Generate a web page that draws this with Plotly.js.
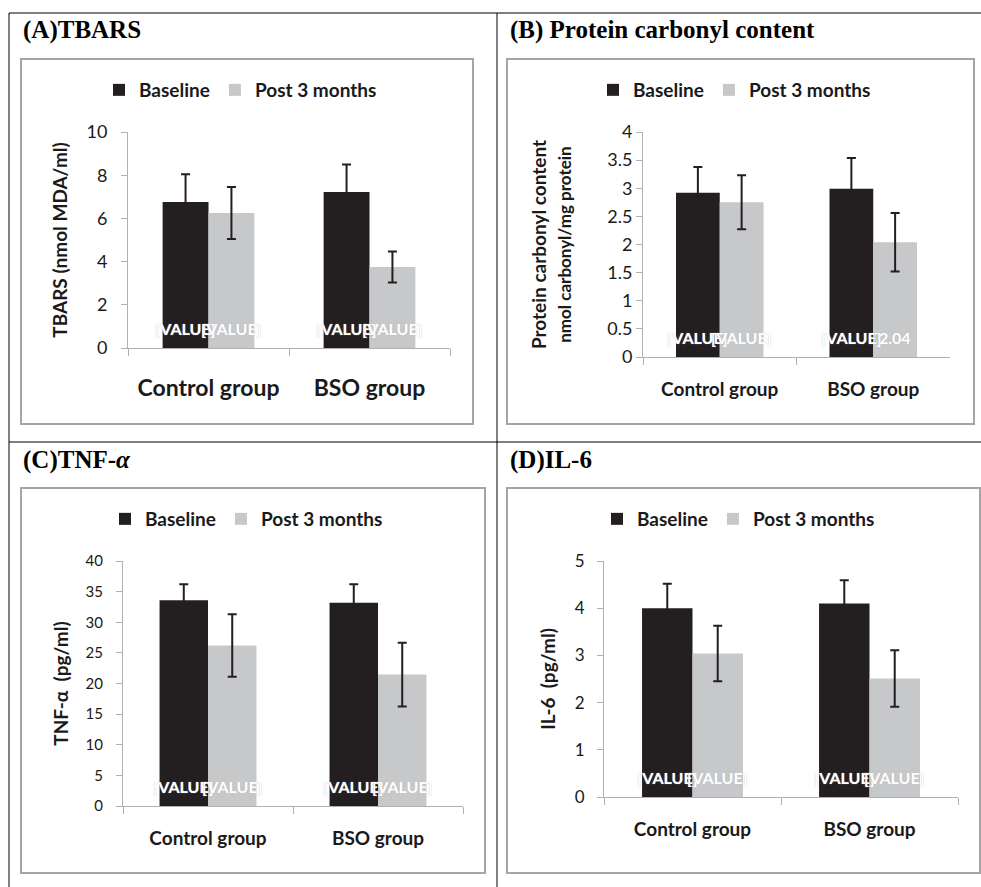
<!DOCTYPE html>
<html>
<head>
<meta charset="utf-8">
<script src="https://cdn.plot.ly/plotly-3.0.1.min.js"></script>
<style>html,body{margin:0;padding:0;background:#fff;}#chart{width:981px;height:887px;}</style>
</head>
<body>
<div id="chart"></div>
<script>
// ---- data ----
const categories = ['Control group', 'BSO group'];
const seriesNames = ['Baseline', 'Post 3 months'];

const tbarsBaseline = [6.76, 7.22];
const tbarsBaselineErr = [1.28, 1.28];
const tbarsPost = [6.25, 3.75];
const tbarsPostErr = [1.2, 0.72];
const tbarsBaselineLabels = ['[VALUE]', '[VALUE]'];
const tbarsPostLabels = ['[VALUE]', '[VALUE]'];

const carbonylBaseline = [2.92, 2.99];
const carbonylBaselineErr = [0.46, 0.55];
const carbonylPost = [2.75, 2.04];
const carbonylPostErr = [0.48, 0.52];
const carbonylBaselineLabels = ['[VALUE]', '[VALUE]'];
const carbonylPostLabels = ['[VALUE]', '2.04'];

const tnfBaseline = [33.6, 33.2];
const tnfBaselineErr = [2.6, 3.0];
const tnfPost = [26.2, 21.45];
const tnfPostErr = [5.1, 5.2];
const tnfBaselineLabels = ['[VALUE]', '[VALUE]'];
const tnfPostLabels = ['[VALUE]', '[VALUE]'];

const il6Baseline = [4.0, 4.1];
const il6BaselineErr = [0.52, 0.49];
const il6Post = [3.04, 2.51];
const il6PostErr = [0.59, 0.6];
const il6BaselineLabels = ['[VALUE]', '[VALUE]'];
const il6PostLabels = ['[VALUE]', '[VALUE]'];

// ---- styling helpers ----
const W = 981, H = 887;
const px = x => x / W;
const py = y => 1 - y / H;
const BLACK = '#231f20';
const GREY = '#c7c8ca';
const AXIS = '#b0b0b0';
const FONT = 'Lato, "Open Sans", sans-serif';
const BARGAP = 0.43;
const HALF = (1 - BARGAP) / 4;   // centre of each bar in a 2-bar group, in category units

function bars(vals, errs, name, color, xa, ya, legend) {
  return {
    type: 'bar', x: categories, y: vals, name: name,
    xaxis: xa, yaxis: ya, legend: legend,
    marker: {color: color},
    error_y: {type: 'data', array: errs, visible: true, color: BLACK, thickness: 2, width: 4.5},
    hoverinfo: 'skip'
  };
}

const data = [
  bars(tbarsBaseline, tbarsBaselineErr, seriesNames[0], BLACK, 'x', 'y', 'legend'),
  bars(tbarsPost, tbarsPostErr, seriesNames[1], GREY, 'x', 'y', 'legend'),
  bars(carbonylBaseline, carbonylBaselineErr, seriesNames[0], BLACK, 'x2', 'y2', 'legend2'),
  bars(carbonylPost, carbonylPostErr, seriesNames[1], GREY, 'x2', 'y2', 'legend2'),
  bars(tnfBaseline, tnfBaselineErr, seriesNames[0], BLACK, 'x3', 'y3', 'legend3'),
  bars(tnfPost, tnfPostErr, seriesNames[1], GREY, 'x3', 'y3', 'legend3'),
  bars(il6Baseline, il6BaselineErr, seriesNames[0], BLACK, 'x4', 'y4', 'legend4'),
  bars(il6Post, il6PostErr, seriesNames[1], GREY, 'x4', 'y4', 'legend4')
];

function valueLabels(labels, side, xa, ya) {
  return labels.map((t, i) => ({
    xref: xa, yref: ya, x: i + side * HALF, y: 0, yshift: 20,
    xanchor: 'center', yanchor: 'middle', showarrow: false, text: t,
    font: {family: FONT, size: 16, weight: 'bold', color: '#ffffff', shadow: '0px 0px 1px #b8b8b8'}
  }));
}

function xAxis(x0, x1, anchor, size, standoff) {
  return {
    domain: [px(x0), px(x1)], anchor: anchor, type: 'category',
    showline: true, linecolor: AXIS, linewidth: 1,
    ticks: 'outside', tickson: 'boundaries', ticklen: 7, tickcolor: AXIS,
    showgrid: false, zeroline: false, fixedrange: true,
    ticklabelstandoff: standoff,
    tickfont: {family: FONT, size: size, weight: 'bold', color: '#1a1a1a'}
  };
}
function yAxis(y0, y1, anchor, range, dtick, size, standoff, title, tsize, tstand) {
  return {
    domain: [py(y1), py(y0)], anchor: anchor, range: range, dtick: dtick,
    showline: true, linecolor: AXIS, linewidth: 1,
    ticks: 'outside', ticklen: 6, tickcolor: AXIS,
    showgrid: false, zeroline: false, fixedrange: true,
    ticklabelstandoff: standoff,
    tickfont: {family: FONT, size: size, color: '#1a1a1a'},
    title: {text: title, standoff: tstand, font: {family: FONT, size: tsize, weight: 'bold', color: '#1a1a1a'}}
  };
}
function legendAt(x, y) {
  return {
    x: px(x), y: py(y), xanchor: 'left', yanchor: 'middle', orientation: 'h',
    bgcolor: 'rgba(0,0,0,0)', borderwidth: 0, itemclick: false, itemdoubleclick: false,
    font: {family: FONT, size: 19, weight: 'bold', color: '#1a1a1a'}
  };
}
function line(x0, y0, x1, y1) {
  return {type: 'line', xref: 'paper', yref: 'paper', x0: px(x0), y0: py(y0), x1: px(x1), y1: py(y1),
          line: {color: '#000', width: 1}};
}
function box(x0, y0, x1, y1) {
  return {type: 'rect', xref: 'paper', yref: 'paper', x0: px(x0), y0: py(y0), x1: px(x1), y1: py(y1),
          line: {color: '#a5a5a5', width: 2}, fillcolor: 'rgba(0,0,0,0)'};
}
function panelTitle(x, y, text) {
  return {xref: 'paper', yref: 'paper', x: px(x), y: py(y), xanchor: 'left', yanchor: 'middle',
          showarrow: false, text: text,
          font: {family: '"Liberation Serif", "Times New Roman", serif', size: 25, weight: 'bold', color: '#000'}};
}

const layout = {
  width: W, height: H, margin: {l: 0, r: 0, t: 0, b: 0},
  paper_bgcolor: '#fff', plot_bgcolor: '#fff',
  barmode: 'group', bargap: BARGAP, bargroupgap: 0,
  showlegend: true,
  xaxis: xAxis(128, 450, 'y', 23, 19),
  yaxis: yAxis(132, 348, 'x', [0, 10], 2, 18, 10, 'TBARS (nmol MDA/ml)', 19, 13),
  xaxis2: xAxis(643, 950, 'y2', 19, 15),
  yaxis2: yAxis(132, 357, 'x2', [0, 4], 0.5, 18, 0,
    'Protein carbonyl content<br><span style="font-size:17px">nmol carbonyl/mg protein</span>', 19, 30),
  xaxis3: xAxis(123, 463, 'y3', 19, 15),
  yaxis3: yAxis(561, 806, 'x3', [0, 40], 5, 15, 10, 'TNF-α&nbsp; (pg/ml)', 19, 11),
  xaxis4: xAxis(604, 958, 'y4', 19, 15),
  yaxis4: yAxis(561, 797, 'x4', [0, 5], 1, 17, 9, 'IL-6&nbsp; (pg/ml)', 19, 14),
  legend: legendAt(99, 90),
  legend2: legendAt(593, 90),
  legend3: legendAt(105, 519),
  legend4: legendAt(597, 519),
  shapes: [
    line(9, 13, 981, 13), line(9, 13, 9, 887), line(497, 13, 497, 887), line(9, 442, 981, 442),
    box(21, 59, 473, 424), box(507, 59, 974, 424), box(21, 488, 485, 873), box(507, 488, 980, 873)
  ],
  annotations: [
    panelTitle(21, 30, '(A)TBARS'),
    panelTitle(508, 30, '(B) Protein carbonyl content'),
    panelTitle(21, 460, '(C)TNF-<i>α</i>'),
    panelTitle(508, 460, '(D)IL-6')
  ].concat(
    valueLabels(tbarsBaselineLabels, -1, 'x', 'y'),
    valueLabels(tbarsPostLabels, 1, 'x', 'y'),
    valueLabels(carbonylBaselineLabels, -1, 'x2', 'y2'),
    valueLabels(carbonylPostLabels, 1, 'x2', 'y2'),
    valueLabels(tnfBaselineLabels, -1, 'x3', 'y3'),
    valueLabels(tnfPostLabels, 1, 'x3', 'y3'),
    valueLabels(il6BaselineLabels, -1, 'x4', 'y4'),
    valueLabels(il6PostLabels, 1, 'x4', 'y4')
  )
};

Plotly.newPlot('chart', data, layout, {staticPlot: true, displayModeBar: false});
</script>
</body>
</html>
